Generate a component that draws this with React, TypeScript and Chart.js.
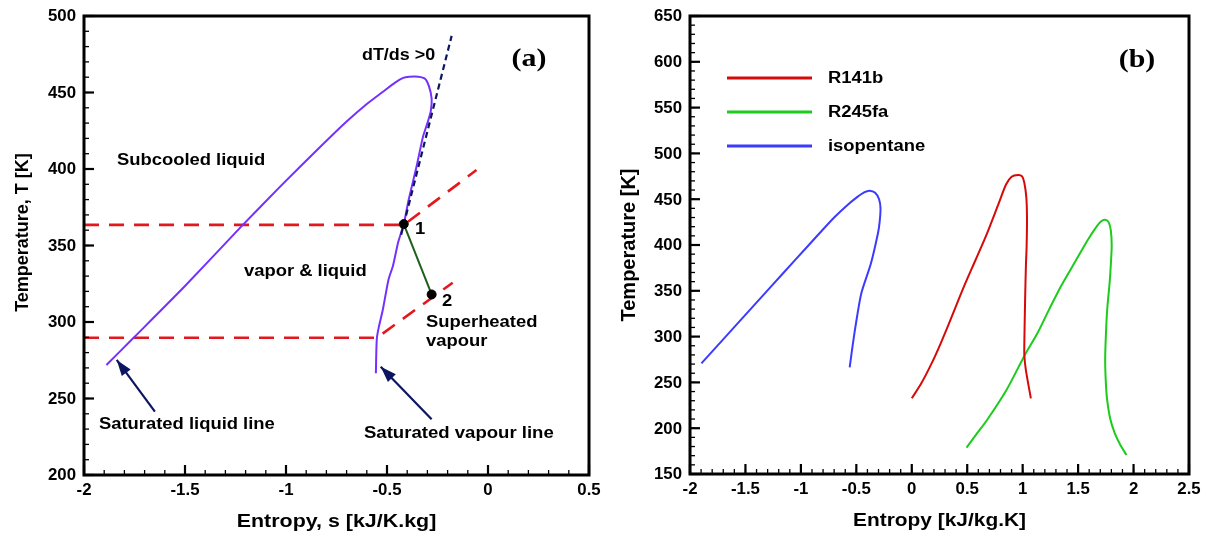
import React, { useEffect, useRef } from "react";
import { Chart, registerables } from "chart.js";

Chart.register(...registerables);

const FONT = '"Liberation Sans", Arial, Helvetica, sans-serif';
const SERIF = '"Liberation Serif", "Times New Roman", serif';

// ---------- Panel (a): isopentane T-s diagram ----------
// saturation dome: liquid branch up to the critical region, then the vapour branch down
const domeS = [
  -1.889, -1.752, -1.5, -1.222, -1.023, -0.83, -0.7, -0.6, -0.52, -0.46, -0.42, -0.39, -0.345,
  -0.312, -0.292, -0.279, -0.283, -0.3, -0.322, -0.354, -0.393, -0.417, -0.445, -0.47, -0.493,
  -0.521, -0.54, -0.55, -0.553, -0.555,
];
const domeT = [
  271.9, 290, 323.5, 362.3, 389.3, 414.5, 431, 442.5, 450.5, 456.5, 459.6, 460.3, 460.3,
  459, 454, 446, 438, 430, 421, 401.5, 379.7, 364, 352, 337, 327.5,
  307.8, 297, 289.7, 280, 266.5,
];

// dT/ds > 0 slope of the saturated vapour line
const slopeS = [-0.43, -0.18];
const slopeT = [357, 487];

// constant-pressure lines (high and low)
const isobarHighS = [-2, -0.417, -0.057];
const isobarHighT = [363.5, 363.5, 399.3];
const isobarLowS = [-2, -0.55, -0.175];
const isobarLowT = [289.7, 289.7, 325.7];

// expansion 1 -> 2
const expansionS = [-0.417, -0.279];
const expansionT = [364, 318];

// arrows: tail then tip
const arrowLiquidS = [-1.649, -1.838];
const arrowLiquidT = [241.4, 275.2];
const arrowVapourS = [-0.279, -0.531];
const arrowVapourT = [236.4, 270.8];

const xTicksA = [-2, -1.5, -1, -0.5, 0, 0.5];
const yTicksA = [200, 250, 300, 350, 400, 450, 500];

// ---------- Panel (b): three working fluids ----------
const r141bS = [
  0.0, 0.086, 0.18, 0.261, 0.348, 0.47, 0.575, 0.679, 0.784, 0.85, 0.9, 0.958, 0.995, 1.015,
  1.033, 1.039, 1.036, 1.029, 1.022, 1.016, 1.015, 1.029, 1.074,
];
const r141bT = [
  232.6, 249, 271, 292.7, 318, 354.5, 383.6, 412.8, 445.5, 466, 474.5, 476.4, 475, 468,
  452, 430, 400, 376.3, 340, 300, 280, 263.5, 232.6,
];

const r245faS = [
  0.494, 0.58, 0.679, 0.854, 1.02, 1.133, 1.24, 1.343, 1.482, 1.587, 1.66, 1.709, 1.745, 1.775,
  1.795, 1.803, 1.798, 1.785, 1.762, 1.75, 1.744, 1.75, 1.762, 1.79, 1.831, 1.88, 1.936,
];
const r245faT = [
  178.7, 193, 209, 241.7, 280, 303.6, 330, 354.5, 383.6, 405.5, 419, 426, 427.5, 425,
  416, 400, 385, 360, 329, 300, 274.5, 250, 230.8, 210, 194.4, 182, 170.7,
];

const isopentaneS = [
  -1.897, -1.607, -1.276, -1.049, -0.857, -0.7, -0.577, -0.49, -0.43, -0.38, -0.33, -0.295,
  -0.282, -0.29, -0.305, -0.368, -0.455, -0.508, -0.543, -0.56,
];
const isopentaneT = [
  270.8, 309.5, 353.8, 384, 409.5, 430, 444, 452.5, 457.5, 459.3, 457, 450,
  440, 425, 412.8, 380, 347.3, 310.8, 281.8, 266.5,
];

const legendNames = ["R141b", "R245fa", "isopentane"];
const legendColors = ["#d70a0a", "#1ccc1c", "#3b3bff"];

const xTicksB = [-2, -1.5, -1, -0.5, 0, 0.5, 1, 1.5, 2, 2.5];
const yTicksB = [150, 200, 250, 300, 350, 400, 450, 500, 550, 600, 650];

const zip = (xs: number[], ys: number[]) => xs.map((x, i) => ({ x, y: ys[i] }));

function drawText(
  ctx: CanvasRenderingContext2D,
  s: string,
  x: number,
  y: number,
  size: number,
  align: CanvasTextAlign = "left",
  sx = 1,
  family = FONT,
  rotate = false
) {
  ctx.save();
  ctx.translate(x, y);
  if (rotate) ctx.rotate(-Math.PI / 2);
  ctx.scale(sx, 1);
  ctx.font = `bold ${size}px ${family}`;
  ctx.fillStyle = "#000";
  ctx.textAlign = align;
  ctx.textBaseline = "middle";
  ctx.fillText(s, 0, 0);
  ctx.restore();
}

type AxisOpts = {
  xMin: number;
  xMax: number;
  yMin: number;
  yMax: number;
  xTicks: number[];
  yTicks: number[];
  xMinor: number;
  yMinor: number;
  xTitle: string;
  yTitle: string;
  xTitleSize: number;
  yTitleSize: number;
  xTitleSx: number;
  yTitleDy: number;
  extra?: (chart: any) => void;
};

function framePlugin(o: AxisOpts) {
  return {
    id: "frame",
    afterDraw(chart: any) {
      const { ctx, chartArea: a, scales } = chart;
      const x = scales.x;
      const y = scales.y;
      ctx.save();
      ctx.strokeStyle = "#000";
      ctx.lineCap = "butt";
      const seg = (x1: number, y1: number, x2: number, y2: number) => {
        ctx.beginPath();
        ctx.moveTo(x1, y1);
        ctx.lineTo(x2, y2);
        ctx.stroke();
      };
      // minor ticks
      ctx.lineWidth = 1.3;
      const nx = Math.round((o.xMax - o.xMin) / o.xMinor);
      for (let i = 1; i < nx; i++) {
        const px = x.getPixelForValue(o.xMin + i * o.xMinor);
        seg(px, a.bottom, px, a.bottom - 5);
      }
      const ny = Math.round((o.yMax - o.yMin) / o.yMinor);
      for (let i = 1; i < ny; i++) {
        const py = y.getPixelForValue(o.yMin + i * o.yMinor);
        seg(a.left, py, a.left + 5, py);
      }
      // major ticks
      ctx.lineWidth = 2.2;
      o.xTicks.forEach((v) => {
        const px = x.getPixelForValue(v);
        seg(px, a.bottom, px, a.bottom - 10);
      });
      o.yTicks.forEach((v) => {
        const py = y.getPixelForValue(v);
        seg(a.left, py, a.left + 10, py);
      });
      // frame
      ctx.lineWidth = 3;
      ctx.strokeRect(a.left, a.top, a.right - a.left, a.bottom - a.top);
      ctx.restore();

      // tick labels
      o.xTicks.forEach((v) => {
        drawText(ctx, String(v), x.getPixelForValue(v), a.bottom + 16, 16, "center", 1.05);
      });
      o.yTicks.forEach((v) => {
        drawText(ctx, String(v), a.left - 8, y.getPixelForValue(v) + 1, 16, "right", 1.05);
      });
      // axis titles
      drawText(ctx, o.xTitle, (a.left + a.right) / 2, a.bottom + 47, o.xTitleSize, "center", o.xTitleSx);
      drawText(ctx, o.yTitle, a.left - 61, (a.top + a.bottom) / 2 + o.yTitleDy, o.yTitleSize, "center", 1, FONT, true);

      if (o.extra) o.extra(chart);
    },
  };
}

function arrowHead(ctx: CanvasRenderingContext2D, x0: number, y0: number, x1: number, y1: number, color: string) {
  const ang = Math.atan2(y1 - y0, x1 - x0);
  const len = 16;
  const half = 5.5;
  ctx.save();
  ctx.fillStyle = color;
  ctx.beginPath();
  ctx.moveTo(x1, y1);
  ctx.lineTo(x1 - len * Math.cos(ang) + half * Math.sin(ang), y1 - len * Math.sin(ang) - half * Math.cos(ang));
  ctx.lineTo(x1 - len * Math.cos(ang) - half * Math.sin(ang), y1 - len * Math.sin(ang) + half * Math.cos(ang));
  ctx.closePath();
  ctx.fill();
  ctx.restore();
}

const NAVY = "#0c1660";
const DOME = "#7430ff";
const ISOBAR = "#e3181f";

function PanelA() {
  const ref = useRef<HTMLCanvasElement>(null);
  useEffect(() => {
    if (!ref.current) return;
    const line = (data: any[], color: string, width: number, dash: number[] = [], tension = 0, order = 5) => ({
      data,
      showLine: true,
      borderColor: color,
      borderWidth: width,
      borderDash: dash,
      pointRadius: 0,
      tension,
      fill: false,
      order,
    });
    const chart = new Chart(ref.current, {
      type: "scatter",
      data: {
        datasets: [
          line(zip(isobarHighS, isobarHighT), ISOBAR, 2.6, [15, 10], 0, 6),
          line(zip(isobarLowS, isobarLowT), ISOBAR, 2.6, [15, 10], 0, 6),
          line(zip(domeS, domeT), DOME, 2, [], 0.2, 4),
          line(zip(slopeS, slopeT), NAVY, 2.2, [6, 4], 0, 3),
          line(zip(expansionS, expansionT), "#1d5f1d", 2, [], 0, 2),
          line(zip(arrowLiquidS, arrowLiquidT), NAVY, 2.2, [], 0, 2),
          line(zip(arrowVapourS, arrowVapourT), NAVY, 2.2, [], 0, 2),
          {
            data: [
              { x: expansionS[0], y: expansionT[0] },
              { x: expansionS[1], y: expansionT[1] },
            ],
            showLine: false,
            pointRadius: 4.5,
            pointBackgroundColor: "#000",
            pointBorderColor: "#000",
            order: 1,
          },
        ],
      },
      options: {
        animation: false,
        responsive: false,
        maintainAspectRatio: false,
        layout: { padding: { left: 84, right: 14, top: 16, bottom: 59 } },
        plugins: { legend: { display: false }, tooltip: { enabled: false } },
        scales: {
          x: { type: "linear", min: -2, max: 0.5, display: false },
          y: { type: "linear", min: 200, max: 500, display: false },
        },
      },
      plugins: [
        framePlugin({
          xMin: -2,
          xMax: 0.5,
          yMin: 200,
          yMax: 500,
          xTicks: xTicksA,
          yTicks: yTicksA,
          xMinor: 0.1,
          yMinor: 10,
          xTitle: "Entropy, s [kJ/K.kg]",
          yTitle: "Temperature, T [K]",
          xTitleSize: 18,
          yTitleSize: 18,
          xTitleSx: 1.19,
          yTitleDy: -13,
          extra: (c: any) => {
            const { ctx } = c;
            const X = (v: number) => c.scales.x.getPixelForValue(v);
            const Y = (v: number) => c.scales.y.getPixelForValue(v);
            arrowHead(ctx, X(arrowLiquidS[0]), Y(arrowLiquidT[0]), X(arrowLiquidS[1]), Y(arrowLiquidT[1]), NAVY);
            arrowHead(ctx, X(arrowVapourS[0]), Y(arrowVapourT[0]), X(arrowVapourS[1]), Y(arrowVapourT[1]), NAVY);
            const sz = 16;
            const sx = 1.15;
            drawText(ctx, "dT/ds >0", X(-0.624), Y(473.9), sz, "left", 1.12);
            drawText(ctx, "Subcooled liquid", X(-1.837), Y(405.2), sz, "left", sx);
            drawText(ctx, "vapor & liquid", X(-1.208), Y(332.7), sz, "left", sx);
            drawText(ctx, "1", X(-0.361), Y(360.1), sz, "left", sx);
            drawText(ctx, "2", X(-0.228), Y(313.1), sz, "left", sx);
            drawText(ctx, "Superheated", X(-0.307), Y(299.3), sz, "left", sx);
            drawText(ctx, "vapour", X(-0.307), Y(286.9), sz, "left", sx);
            drawText(ctx, "Saturated liquid line", X(-1.926), Y(232.7), sz, "left", sx);
            drawText(ctx, "Saturated vapour line", X(-0.614), Y(226.8), sz, "left", 1.16);
            drawText(ctx, "(a)", X(0.203), Y(471.9), 26, "center", 1.15, SERIF);
          },
        }),
      ],
    } as any);
    return () => chart.destroy();
  }, []);
  return <canvas ref={ref} width={603} height={534} style={{ position: "absolute", left: 0, top: 0 }} />;
}

function PanelB() {
  const ref = useRef<HTMLCanvasElement>(null);
  useEffect(() => {
    if (!ref.current) return;
    const series = [
      zip(r141bS, r141bT),
      zip(r245faS, r245faT),
      zip(isopentaneS, isopentaneT),
    ];
    const chart = new Chart(ref.current, {
      type: "scatter",
      data: {
        datasets: series.map((d, i) => ({
          label: legendNames[i],
          data: d,
          showLine: true,
          borderColor: legendColors[i],
          borderWidth: 2,
          pointRadius: 0,
          tension: 0.25,
          fill: false,
        })),
      },
      options: {
        animation: false,
        responsive: false,
        maintainAspectRatio: false,
        layout: { padding: { left: 87, right: 18, top: 16, bottom: 60 } },
        plugins: { legend: { display: false }, tooltip: { enabled: false } },
        scales: {
          x: { type: "linear", min: -2, max: 2.5, display: false },
          y: { type: "linear", min: 150, max: 650, display: false },
        },
      },
      plugins: [
        framePlugin({
          xMin: -2,
          xMax: 2.5,
          yMin: 150,
          yMax: 650,
          xTicks: xTicksB,
          yTicks: yTicksB,
          xMinor: 0.1,
          yMinor: 10,
          xTitle: "Entropy [kJ/kg.K]",
          yTitle: "Temperature [K]",
          xTitleSize: 19,
          yTitleSize: 20,
          xTitleSx: 1.1,
          yTitleDy: 0,
          extra: (c: any) => {
            const { ctx, chartArea: a } = c;
            const X = (v: number) => c.scales.x.getPixelForValue(v);
            const Y = (v: number) => c.scales.y.getPixelForValue(v);
            // legend
            legendNames.forEach((name, i) => {
              const ly = a.top + 62 + i * 34;
              ctx.save();
              ctx.strokeStyle = legendColors[i];
              ctx.lineWidth = 3;
              ctx.beginPath();
              ctx.moveTo(a.left + 37, ly);
              ctx.lineTo(a.left + 122, ly);
              ctx.stroke();
              ctx.restore();
              drawText(ctx, name, a.left + 138, ly + 1, 16, "left", 1.15);
            });
            drawText(ctx, "(b)", X(2.031), Y(602), 26, "center", 1.15, SERIF);
          },
        }),
      ],
    } as any);
    return () => chart.destroy();
  }, []);
  return <canvas ref={ref} width={604} height={534} style={{ position: "absolute", left: 603, top: 0 }} />;
}

export default function App() {
  return (
    <div style={{ position: "absolute", left: 0, top: 0, width: 1207, height: 534, background: "#fff", overflow: "hidden" }}>
      <PanelA />
      <PanelB />
    </div>
  );
}
